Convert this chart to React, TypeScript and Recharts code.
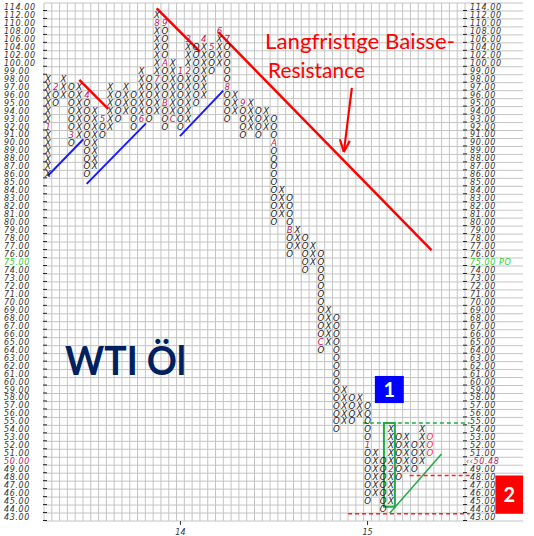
import React from 'react';
import { ScatterChart, Scatter, XAxis, YAxis, CartesianGrid, ReferenceLine, ReferenceArea } from 'recharts';

// price scale of the point & figure chart (box size 2 above 100, 1 below)
const priceLevels = [114, 112, 110, 108, 106, 104, 102, 100, 99, 98, 97, 96, 95, 94, 93, 92, 91, 90, 89, 88, 87, 86, 85, 84, 83, 82, 81, 80, 79, 78, 77, 76, 75, 74, 73, 72, 71, 70, 69, 68, 67, 66, 65, 64, 63, 62, 61, 60, 59, 58, 57, 56, 55, 54, 53, 52, 51, 50, 49, 48, 47, 46, 45, 44, 43];

// columns
const colTypes = ['X', 'O', 'X', 'O', 'X', 'O', 'X', 'O', 'X', 'O', 'X', 'O', 'X', 'O', 'X', 'O', 'X', 'O', 'X', 'O', 'X', 'O', 'X', 'O', 'X', 'O', 'X', 'O', 'X', 'O', 'X', 'O', 'X', 'O', 'X', 'O', 'X', 'O', 'X', 'O', 'X', 'O', 'X', 'O', 'X', 'O', 'X', 'O', 'X', 'O'];
const colLows = [86, 95, 96, 90, 91, 86, 87, 91, 92, 93, 94, 92, 93, 93, 94, 92, 93, 92, 93, 95, 96, 99, 100, 93, 94, 91, 92, 91, 92, 80, 81, 76, 77, 74, 75, 64, 65, 54, 55, 55, 56, 45, 46, 44, 45, 48, 49, 49, 50, 51];
const colHighs = [98, 97, 98, 97, 97, 96, 94, 93, 97, 96, 97, 96, 99, 98, 112, 110, 100, 99, 106, 104, 106, 104, 108, 106, 96, 95, 95, 94, 94, 93, 84, 83, 79, 78, 77, 76, 69, 68, 59, 58, 58, 57, 51, 50, 54, 53, 53, 52, 54, 53];

// month markers (1..9, A, B, C)
const monthCols = [0, 1, 3, 5, 7, 12, 14, 14, 15, 15, 15, 16, 17, 18, 18, 20, 21, 22, 23, 23, 25, 29, 31, 35, 41, 44];
const monthPrices = [92, 97, 91, 96, 93, 93, 98, 110, 110, 100, 95, 93, 99, 99, 106, 106, 104, 108, 106, 97, 95, 90, 79, 65, 52, 49];
const monthLabels = ['1', '2', '3', '4', '5', '6', '7', '8', '9', 'A', 'B', 'C', '1', '2', '3', '4', '5', '6', '7', '8', '9', 'A', 'B', 'C', '1', '2'];

const yearLabels = ['14', '15'];
const poPrice = 75;
const lastPriceLabel = '‹‹50.48';
const lastPriceLevel = 50;

const INK = '#1b1b1b';
const MONTH = '#c2185b';
const CUR = '#ff2b2b';
const LABEL = '#333';
const GREEN = '#2bcc2b';

const NCOLS = 54;
const NROWS = priceLevels.length;

type Box = { c: number; r: number; t: string; color: string };
const boxes: Box[] = [];
colTypes.forEach((type, c) => {
  priceLevels.forEach((p, r) => {
    if (p >= colLows[c] && p <= colHighs[c]) {
      const mi = monthCols.findIndex((mc, i) => mc === c && monthPrices[i] === p);
      const isLast = c === colTypes.length - 1;
      boxes.push({
        c,
        r,
        t: mi >= 0 ? monthLabels[mi] : type,
        color: mi >= 0 ? MONTH : isLast ? CUR : INK,
      });
    }
  });
});

const yearCols = monthCols.filter((_, i) => monthLabels[i] === '1' && i > 0);
const rowTicks = priceLevels.map((_, i) => i);

const Glyph = (props: any) => {
  const { cx, cy, payload } = props;
  return (
    <text x={cx} y={cy + 3.1} textAnchor="middle" fontFamily="DejaVu Sans" fontStyle="italic" fontSize={8.6} fill={payload.color}>
      {payload.t}
    </text>
  );
};

const labelColor = (p: number) => (p === poPrice ? GREEN : p === lastPriceLevel ? MONTH : LABEL);

const LeftTick = (props: any) => {
  const { y, payload } = props;
  const p = priceLevels[payload.value];
  if (p === undefined) return null;
  return (
    <g>
      <line x1={43} x2={47} y1={y + 3.5} y2={y + 3.5} stroke="#222" strokeWidth={1} />
      <text x={4} y={y + 3} fontFamily="DejaVu Sans" fontStyle="italic" fontSize={8} letterSpacing={0.6} fill={labelColor(p)}>
        {p.toFixed(2)}
      </text>
    </g>
  );
};

const RightTick = (props: any) => {
  const { y, payload } = props;
  const p = priceLevels[payload.value];
  if (p === undefined) return null;
  let txt = p.toFixed(2);
  if (p === poPrice) txt = txt + ' PO';
  if (p === lastPriceLevel) txt = lastPriceLabel;
  return (
    <g>
      <line x1={463} x2={467} y1={y + 3.5} y2={y + 3.5} stroke="#222" strokeWidth={1} />
      <text x={p === lastPriceLevel ? 466 : 470} y={y + 3} fontFamily="DejaVu Sans" fontStyle="italic" fontSize={8} letterSpacing={0.6} fill={labelColor(p)}>
        {txt}
      </text>
    </g>
  );
};

const seg = (a: number[], b: number[]) => [{ x: a[0], y: a[1] }, { x: b[0], y: b[1] }];

export default function App() {
  return (
    <div style={{ position: 'absolute', left: 0, top: 0, width: 534, height: 536, background: '#fff' }}>
      <ScatterChart width={534} height={536} margin={{ top: 3, right: 0, bottom: 0, left: 0 }}>
        <CartesianGrid
          vertical={false}
          stroke="#c4c4c4"
          width={479}
          horizontalCoordinatesGenerator={({ offset }: any) =>
            Array.from({ length: NROWS + 1 }, (_, j) => offset.top + (offset.height * j) / NROWS)
          }
        />
        <CartesianGrid
          horizontal={false}
          stroke="#c4c4c4"
          verticalCoordinatesGenerator={({ offset }: any) =>
            Array.from({ length: NCOLS + 1 }, (_, k) => offset.left + (offset.width * k) / NCOLS)
          }
        />
        <XAxis
          type="number"
          dataKey="c"
          domain={[-0.5, NCOLS - 0.5]}
          ticks={yearCols}
          interval={0}
          tickFormatter={(v: number) => yearLabels[yearCols.indexOf(v)] ?? ''}
          axisLine={false}
          tickLine={{ stroke: '#333' }}
          tickSize={4}
          tickMargin={4}
          height={15}
          allowDataOverflow
          tick={{ fontSize: 8, fontStyle: 'italic', fill: LABEL, fontFamily: 'DejaVu Sans' }}
        />
        <YAxis
          yAxisId="l"
          type="number"
          dataKey="r"
          domain={[-0.5, NROWS - 0.5]}
          reversed
          ticks={rowTicks}
          interval={0}
          width={44}
          axisLine={false}
          tickLine={false}
          tick={<LeftTick />}
          allowDataOverflow
        />
        <YAxis
          yAxisId="r"
          orientation="right"
          type="number"
          domain={[-0.5, NROWS - 0.5]}
          reversed
          ticks={rowTicks}
          interval={0}
          width={69}
          axisLine={false}
          tickLine={false}
          tick={<RightTick />}
          allowDataOverflow
        />
        <Scatter yAxisId="l" data={boxes} shape={<Glyph />} isAnimationActive={false} />

        {/* red resistance lines */}
        <ReferenceLine yAxisId="l" segment={seg([4.03, 9.16], [7.74, 12.8])} stroke="#ff0000" strokeWidth={2.5} ifOverflow="visible" />
        <ReferenceLine yAxisId="l" segment={seg([13.95, 0.16], [19.5, 5.6])} stroke="#ff0000" strokeWidth={2.5} ifOverflow="visible" />
        <ReferenceLine yAxisId="l" segment={seg([21.85, 3.17], [49.2, 30.5])} stroke="#ff0000" strokeWidth={2.5} ifOverflow="visible" />
        {/* arrow */}
        <ReferenceLine yAxisId="l" segment={seg([38.99, 10.16], [37.96, 18.2])} stroke="#ff0000" strokeWidth={2.2} ifOverflow="visible" />
        <ReferenceLine yAxisId="l" segment={seg([37.45, 16.6], [37.96, 18.2])} stroke="#ff0000" strokeWidth={2.2} ifOverflow="visible" />
        <ReferenceLine yAxisId="l" segment={seg([38.72, 16.8], [37.96, 18.2])} stroke="#ff0000" strokeWidth={2.2} ifOverflow="visible" />
        {/* blue support lines */}
        <ReferenceLine yAxisId="l" segment={seg([-0.03, 21.2], [4.54, 16.6])} stroke="#1a1aff" strokeWidth={2} ifOverflow="visible" />
        <ReferenceLine yAxisId="l" segment={seg([4.97, 22.2], [12.58, 14.6])} stroke="#1a1aff" strokeWidth={2} ifOverflow="visible" />
        <ReferenceLine yAxisId="l" segment={seg([16.94, 16.2], [22.49, 10.5])} stroke="#1a1aff" strokeWidth={2} ifOverflow="visible" />
        {/* green annotations */}
        <ReferenceLine yAxisId="l" segment={seg([40.4, 52.2], [54.1, 52.2])} stroke="#22aa44" strokeWidth={1.5} strokeDasharray="4 3" ifOverflow="visible" />
        <ReferenceArea yAxisId="l" x1={43.1} x2={44.5} y1={52.2} y2={62.7} fill="none" stroke="#22aa44" strokeWidth={2} ifOverflow="visible" />
        <ReferenceLine yAxisId="l" segment={seg([43.86, 63.5], [50.49, 56.1])} stroke="#22aa44" strokeWidth={1.5} ifOverflow="visible" />
        {/* red dashed targets */}
        <ReferenceLine yAxisId="l" segment={seg([46.4, 58.8], [54.1, 58.8])} stroke="#ff2020" strokeWidth={1.5} strokeDasharray="4 3" ifOverflow="visible" />
        <ReferenceLine yAxisId="l" segment={seg([38.5, 63.6], [54.1, 63.6])} stroke="#ff2020" strokeWidth={1.5} strokeDasharray="4 3" ifOverflow="visible" />
        {/* numbered boxes */}
        <ReferenceArea
          yAxisId="l"
          x1={41.94}
          x2={45.65}
          y1={46.3}
          y2={49.7}
          fill="#0000ff"
          fillOpacity={1}
          stroke="none"
          ifOverflow="visible"
          label={{ value: '1', position: 'center', fill: '#fff', fontSize: 20, fontWeight: 700, fontFamily: 'Lato' }}
        />
        <ReferenceArea
          yAxisId="l"
          x1={57.4}
          x2={60.95}
          y1={58.8}
          y2={63.6}
          fill="#ff0000"
          fillOpacity={1}
          stroke="none"
          ifOverflow="visible"
          label={{ value: '2', position: 'center', fill: '#fff', fontSize: 20, fontWeight: 700, fontFamily: 'Lato' }}
        />
      </ScatterChart>
      <svg width={534} height={536} style={{ position: 'absolute', left: 0, top: 0, pointerEvents: 'none' }}>
        <text x={265} y={49} fontFamily="Lato" fontSize={22} fill="#ff0000" textLength={190} lengthAdjust="spacingAndGlyphs">
          Langfristige Baisse-
        </text>
        <text x={268} y={78} fontFamily="Lato" fontSize={22} fill="#ff0000" textLength={97} lengthAdjust="spacingAndGlyphs">
          Resistance
        </text>
        <text x={65} y={375} fontFamily="Lato" fontWeight={700} fontSize={40} fill="#002060" textLength={121} lengthAdjust="spacingAndGlyphs">
          WTI Öl
        </text>
      </svg>
    </div>
  );
}
